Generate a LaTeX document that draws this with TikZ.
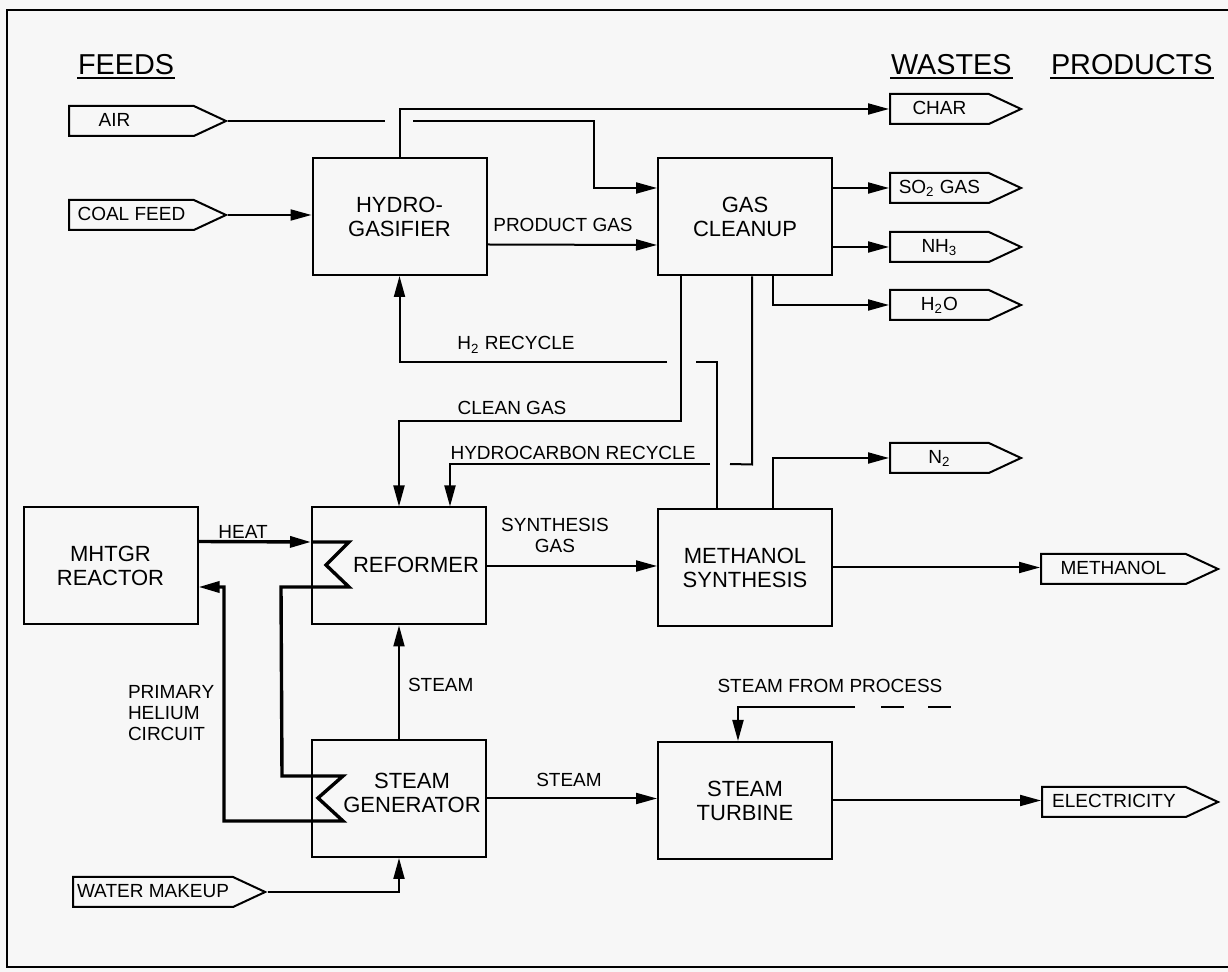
\documentclass[tikz,border=0pt]{standalone}
\usepackage{fontspec}
\setmainfont{Liberation Sans}
\usepackage{tikz}
\usetikzlibrary{arrows.meta,shapes.symbols}
\definecolor{paper}{HTML}{F7F7F7}

\begin{document}
\begin{tikzpicture}[x=0.5pt, y=-0.5pt, line width=1pt, >={Triangle[length=10.5pt,width=5.5pt]},
  unit/.style={draw, line width=1pt, minimum width=87pt, minimum height=58.5pt, inner sep=0pt, align=center, font=\fontsize{11}{12}\selectfont},
  txt/.style={inner sep=0pt, font=\fontsize{9.5}{10.5}\selectfont},
  hdr/.style={inner sep=0pt, anchor=base west, font=\fontsize{14.4}{16}\selectfont},
  tag/.style={draw, line width=1pt, shape=signal, signal to=east, signal from=nowhere, signal pointer angle=50,
    minimum height=15pt, inner xsep=2pt, inner ysep=0pt, text height=7pt, text depth=1.5pt, anchor=west,
    font=\fontsize{9.5}{10.5}\selectfont},
  hot/.style={line width=1.7pt}]
\fill[paper] (0,0) rectangle (1228,972);
\useasboundingbox (0,0) rectangle (1228,972);
\draw (1240,10) -- (7,10) -- (7,967) -- (1240,967);

% column heads
\node[hdr] (feeds) at (77,75) {FEEDS};
\node[hdr] (wastes) at (890,75) {WASTES};
\node[hdr] (products) at (1050,75) {PRODUCTS};
\foreach \h in {feeds,wastes,products}
  \draw[line width=1.2pt] ([yshift=-1.6pt]\h.base west) -- ([yshift=-1.6pt]\h.base east);

% process units
\node[unit] (hydro) at (399.5,216.5) {HYDRO-\\GASIFIER};
\node[unit] (cleanup) at (745,217) {GAS\\CLEANUP};
\node[unit] (mhtgr) at (110.5,565.5) {MHTGR\\REACTOR};
\node[unit] (reformer) at (399,566) {};
\node[unit] (methanol) at (745,567.5) {METHANOL\\SYNTHESIS};
\node[unit] (steamgen) at (399,798.5) {};
\node[unit] (turbine) at (745,800.5) {STEAM\\TURBINE};
\node[inner sep=0pt, font=\fontsize{11}{12}\selectfont] (reformertxt) at (416,565) {REFORMER};
\node[inner sep=0pt, align=center, font=\fontsize{11}{12}\selectfont] (steamgentxt) at (412,793) {STEAM\\GENERATOR};

% feeds, wastes and products
\node[tag, minimum width=78.5pt] (air) at (68,121) {AIR\hspace{17pt}\null};
\node[tag, minimum width=78.5pt] (coal) at (68,215) {COAL FEED};
\node[tag, minimum width=94pt] (water) at (72,892) {WATER MAKEUP};
\node[tag, minimum width=65.5pt] (char) at (889,109) {CHAR};
\node[tag, minimum width=65.5pt] (so2) at (889,188) {SO\textsubscript{2} GAS};
\node[tag, minimum width=65.5pt] (nh3) at (889,247) {NH\textsubscript{3}};
\node[tag, minimum width=65.5pt] (h2o) at (889,305) {H\textsubscript{2}O};
\node[tag, minimum width=65.5pt] (n2) at (889,458) {N\textsubscript{2}};
\node[tag, minimum width=88.5pt] (meoh) at (1040,569) {METHANOL};
\node[tag, minimum width=88pt] (elec) at (1041,802) {ELECTRICITY};

% line breaks where streams cross
\coordinate (airgapL) at (385,121);
\coordinate (airgapR) at (413,121);
\coordinate (h2gapL) at (667,362);
\coordinate (h2gapR) at (696,362);
\coordinate (hcgapL) at (710,464);
\coordinate (hcgapR) at (730,464);
\coordinate (sfp) at (855,707);
\coordinate (sfpdash) at (881,707);
\coordinate (sfpend) at (953,707);

% streams
\draw (air.east) -- (airgapL);
\draw[->] (airgapR) -- (594,121) |- ([yshift=14.5pt]cleanup.west);
\draw[->] (coal.east) -- (coal.east -| hydro.west);
\draw[->] (hydro.north) |- (char.west);
\draw[->] ([yshift=-14pt]hydro.east) -- ([yshift=-14pt]cleanup.west);
\draw[->] (cleanup.east |- so2) -- (so2.west);
\draw[->] (cleanup.east |- nh3) -- (nh3.west);
\draw[->] ([xshift=14pt]cleanup.south) |- (h2o.west);
\draw[->] ([xshift=-32pt]cleanup.south) -- ++(0,145) -| (reformer.north);
\draw ([xshift=3.5pt]cleanup.south) -- ++(0,188) -- (hcgapR);
\draw[->] (hcgapL) -| ([xshift=25.5pt]reformer.north);
\draw ([xshift=-14pt]methanol.north) |- (h2gapR);
\draw[->] (h2gapL) -| (hydro.south);
\draw[->] ([xshift=14pt]methanol.north) |- (n2.west);
\draw[->] (reformer.east) -- (reformer.east -| methanol.west);
\draw[->] (methanol.east) -- (methanol.east -| meoh.west);
\draw[->] (steamgen.north) -- (reformer.south);
\draw[->] (steamgen.east) -- (steamgen.east -| turbine.west);
\draw[->] (turbine.east) -- (turbine.east -| elec.west);
\draw[->] (water.east) -| (steamgen.south);
\draw[->] (sfp) -| ([xshift=-3.5pt]turbine.north);
\draw[dash pattern=on 11.5pt off 12pt] (sfpdash) -- (sfpend);

% primary helium circuit
\draw[hot,->] ([yshift=12pt]mhtgr.east) -- ([yshift=12pt]reformer.west);
\draw[hot,->] ([yshift=12pt]reformer.west) -- ++(38,0) -- ++(-23,23) -- ++(23,22) -- ++(-68,0)
  -- (282,776) -- ++(61,0) -- ++(-25,22) -- ++(25,23) -- ++(-119,0) -- (224,587)
  -- ([yshift=-10.75pt]mhtgr.east);

% stream labels
\node[txt, anchor=base] (prodgas) at (563,232) {PRODUCT GAS};
\node[txt, anchor=base] (h2rec) at (516,350) {H\textsubscript{2} RECYCLE};
\node[txt, anchor=base] (cleangas) at (512,415) {CLEAN GAS};
\node[txt, anchor=base] (hcrec) at (573,460) {HYDROCARBON RECYCLE};
\node[txt, align=center] (syngas) at (555,535.5) {SYNTHESIS\\GAS};
\node[txt, anchor=base] (heat) at (243,539) {HEAT};
\node[txt, anchor=base west] (steamup) at (407,692) {STEAM};
\node[txt, align=left, anchor=north west] (helium) at (127,684) {PRIMARY\\HELIUM\\CIRCUIT};
\node[txt, anchor=base] (steamrt) at (569,787) {STEAM};
\node[txt, anchor=base] (sfptxt) at (830,693) {STEAM FROM PROCESS};
\end{tikzpicture}
\end{document}
